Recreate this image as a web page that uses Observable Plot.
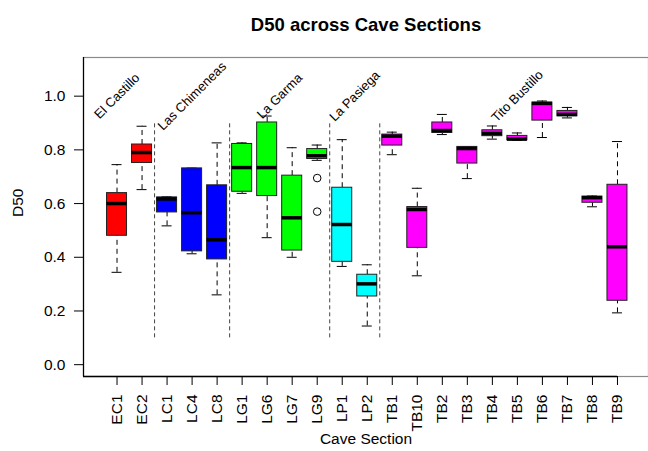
<!DOCTYPE html>
<html>
<head>
<meta charset="utf-8">
<script src="https://cdn.jsdelivr.net/npm/d3@7"></script>
<script src="https://cdn.jsdelivr.net/npm/@observablehq/plot@0.6"></script>
<style>
  html, body { margin: 0; padding: 0; background: #fff; }
  #chart svg { display: block; }
</style>
</head>
<body>
<div id="chart"></div>
<script>
// ---- data ----
const title = "D50 across Cave Sections";
const xLabel = "Cave Section";
const yLabel = "D50";
const sections = ["EC1","EC2","LC1","LC4","LC8","LG1","LG6","LG7","LG9","LP1","LP2",
                  "TB1","TB10","TB2","TB3","TB4","TB5","TB6","TB7","TB8","TB9"];
const sectionCave = ["El Castillo","El Castillo",
                     "Las Chimeneas","Las Chimeneas","Las Chimeneas",
                     "La Garma","La Garma","La Garma","La Garma",
                     "La Pasiega","La Pasiega",
                     "Tito Bustillo","Tito Bustillo","Tito Bustillo","Tito Bustillo","Tito Bustillo",
                     "Tito Bustillo","Tito Bustillo","Tito Bustillo","Tito Bustillo","Tito Bustillo"];
const whiskerLow  = [0.344,0.652,0.517,0.413,0.260,0.638,0.473,0.400,0.761,0.366,0.144,
                     0.782,0.331,0.857,0.693,0.840,0.836,0.846,0.919,0.588,0.193];
const quartile1   = [0.480,0.751,0.567,0.422,0.392,0.644,0.628,0.425,0.766,0.383,0.254,
                     0.816,0.435,0.863,0.749,0.851,0.836,0.909,0.925,0.603,0.238];
const medians     = [0.600,0.790,0.617,0.566,0.465,0.734,0.734,0.547,0.778,0.522,0.301,
                     0.851,0.578,0.872,0.805,0.861,0.840,0.973,0.932,0.622,0.439];
const quartile3   = [0.639,0.820,0.623,0.731,0.668,0.822,0.902,0.704,0.803,0.659,0.335,
                     0.857,0.587,0.902,0.811,0.873,0.852,0.976,0.945,0.626,0.670];
const whiskerHigh = [0.745,0.888,0.625,0.732,0.826,0.826,0.926,0.808,0.818,0.838,0.372,
                     0.866,0.657,0.932,0.811,0.889,0.863,0.982,0.958,0.628,0.831];
const outlierSection = ["LG9","LG9"];
const outlierValue   = [0.695, 0.570];
const caveNames   = ["El Castillo","Las Chimeneas","La Garma","La Pasiega","Tito Bustillo"];
const caveColors  = ["#FF0000","#0000FF","#00FF00","#00FFFF","#FF00FF"];
const caveLabelAt = [1, 4, 7.5, 10.5, 17];   // label centres, in section-index units
const caveLabelValue = 1.0;                  // D50 level of the cave labels
const separatorSpan = [0.1, 0.9];            // D50 range of the dashed separators
const yTicks = [0, 0.2, 0.4, 0.6, 0.8, 1.0];
const yLimits = [0, 1.1];

// ---- derived tables ----
const rows = sections.map((s, i) => ({
  section: s, pos: i + 1, cave: sectionCave[i],
  lo: whiskerLow[i], q1: quartile1[i], med: medians[i], q3: quartile3[i], hi: whiskerHigh[i]
}));
const outliers = outlierSection.map((s, i) => ({pos: sections.indexOf(s) + 1, value: outlierValue[i]}));
const separators = [];
for (let i = 0; i < sections.length - 1; i++) {
  if (sectionCave[i] !== sectionCave[i + 1]) separators.push(i + 1.5);
}
const labels = caveNames.map((c, i) => ({cave: c, pos: caveLabelAt[i], value: caveLabelValue}));

// R-style axis extension (4%)
const n = sections.length;
const xExt = (n) * 0.04;
const xMin = 0.5 - xExt;
const xMax = 22.24; // the reference is cropped at the right edge
const yExt = (yLimits[1] - yLimits[0]) * 0.04;
const yMin = yLimits[0] - yExt, yMax = yLimits[1] + yExt;

const BW = 0.4;   // half box width (boxwex 0.8)
const CW = 0.2;   // half staple width
const font = "'Liberation Sans', Arial, Helvetica, sans-serif";

const chart = Plot.plot({
  width: 648,
  height: 451,
  marginTop: 57,
  marginBottom: 75,
  marginLeft: 83,
  marginRight: 0,
  style: {fontFamily: font, fontSize: "15.5px", color: "black", background: "white"},
  x: {domain: [xMin, xMax], axis: null},
  y: {domain: [yMin, yMax], axis: null},
  color: {domain: caveNames, range: caveColors},
  marks: [
    Plot.frame({stroke: "#8a8a8a", strokeWidth: 1.2}),
    // separators
    Plot.ruleX(separators, {x: d => d, y1: separatorSpan[0], y2: separatorSpan[1],
      stroke: "#444", strokeWidth: 1, strokeDasharray: "4,3"}),
    // whiskers
    Plot.ruleX(rows, {x: "pos", y1: "q3", y2: "hi", stroke: "black", strokeDasharray: "5,4"}),
    Plot.ruleX(rows, {x: "pos", y1: "lo", y2: "q1", stroke: "black", strokeDasharray: "5,4"}),
    // staples
    Plot.ruleY(rows, {y: "hi", x1: d => d.pos - CW, x2: d => d.pos + CW, stroke: "black"}),
    Plot.ruleY(rows, {y: "lo", x1: d => d.pos - CW, x2: d => d.pos + CW, stroke: "black"}),
    // boxes
    Plot.rect(rows, {x1: d => d.pos - BW, x2: d => d.pos + BW, y1: "q1", y2: "q3",
      fill: "cave", stroke: "#222", strokeWidth: 1}),
    // medians
    Plot.ruleY(rows, {y: "med", x1: d => d.pos - BW, x2: d => d.pos + BW,
      stroke: "black", strokeWidth: 3.5}),
    // outliers
    Plot.dot(outliers, {x: "pos", y: "value", r: 3.8, stroke: "black", strokeWidth: 1, fill: "none"}),
    // cave labels
    Plot.text(labels, {x: "pos", y: "value", text: "cave", rotate: -45,
      fontSize: 13, fill: "black"}),
    // axes
    Plot.axisY({ticks: yTicks, tickFormat: d3.format(".1f"), tickSize: 9, tickPadding: 9,
      label: null, fontSize: 15.5}),
    Plot.axisX({ticks: d3.range(1, n + 1), tickFormat: i => sections[i - 1], tickRotate: -90,
      tickSize: 9, tickPadding: 9, label: null, fontSize: 15.5}),
    // axis lines
    Plot.ruleX([xMin], {stroke: "black", strokeWidth: 1.2}),
    Plot.ruleY([yMin], {x1: xMin, x2: n, stroke: "black", strokeWidth: 1.5}),
    // titles
    Plot.text([title], {frameAnchor: "top", dy: -40, fontWeight: "bold", fontSize: 18.5}),
    Plot.text([xLabel], {frameAnchor: "bottom", dy: 67, fontSize: 15.5}),
    Plot.text([yLabel], {frameAnchor: "left", dx: -65, rotate: -90, fontSize: 15.5})
  ]
});
document.getElementById("chart").appendChild(chart);
</script>
</body>
</html>
